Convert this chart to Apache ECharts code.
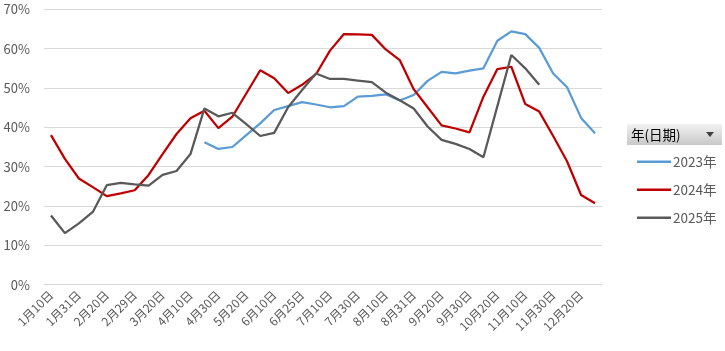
<!DOCTYPE html>
<html>
<head>
<meta charset="utf-8">
<script src="https://cdn.jsdelivr.net/npm/echarts@6/dist/echarts.min.js"></script>
<style>
  html, body { margin: 0; padding: 0; background: #fff; }
  #chart { width: 725px; height: 351px; }
</style>
</head>
<body>
<div id="chart"></div>
<script>
// categories (labels shown every other one)
const dates = [
  "1月10日", "1月20日", "1月31日", "2月10日", "2月20日", "2月25日", "2月29日", "3月10日",
  "3月20日", "3月31日", "4月10日", "4月20日", "4月30日", "5月10日", "5月20日", "5月31日",
  "6月10日", "6月20日", "6月25日", "6月30日", "7月10日", "7月20日", "7月30日", "7月31日",
  "8月10日", "8月20日", "8月31日", "9月10日", "9月20日", "9月25日", "9月30日", "10月10日",
  "10月20日", "10月31日", "11月10日", "11月20日", "11月30日", "12月10日", "12月20日", "12月31日"
];

const y2023 = [
  null, null, null, null, null, null, null, null, null, null, null,
  36.2, 34.5, 35.0, 38.0, 41.0, 44.4, 45.4, 46.4, 45.8, 45.1, 45.4, 47.8, 48.0,
  48.4, 46.8, 48.2, 51.8, 54.1, 53.7, 54.4, 55.0, 62.0, 64.4, 63.7, 60.2, 53.7,
  50.2, 42.4, 38.5
];

const y2024 = [
  38.0, 32.0, 27.0, 24.8, 22.5, 23.2, 24.0, 27.9, 33.2, 38.3, 42.3, 44.2, 39.8,
  42.7, 48.6, 54.5, 52.5, 48.7, 50.8, 53.5, 59.5, 63.7, 63.6, 63.5, 59.8, 57.1,
  49.7, 45.1, 40.5, 39.7, 38.7, 47.8, 54.8, 55.4, 45.9, 44.0, 37.8, 31.3, 22.8, 20.7
];

const y2025 = [
  17.6, 13.1, 15.6, 18.5, 25.3, 25.9, 25.5, 25.2, 27.9, 28.9, 33.2, 44.8, 42.8,
  43.7, 40.8, 37.8, 38.6, 45.1, 49.5, 53.7, 52.3, 52.3, 51.9, 51.5, 48.8, 46.9,
  44.8, 40.2, 36.8, 35.8, 34.5, 32.4, 45.4, 58.4, 55.0, 50.8, null, null, null, null
];

const yTicks = [0, 10, 20, 30, 40, 50, 60, 70];

const chart = echarts.init(document.getElementById("chart"));

const lineSeries = (name, data, color) => ({
  name: name,
  type: "line",
  data: data,
  symbol: "none",
  connectNulls: false,
  lineStyle: { color: color, width: 2.25 },
  itemStyle: { color: color },
  animation: false,
});

const option = {
  animation: false,
  textStyle: { fontFamily: "'Noto Sans CJK SC', 'Noto Sans', sans-serif" },
  grid: { left: 44, right: 123, top: 9.3, bottom: 66.3 },
  xAxis: {
    type: "category",
    data: dates,
    boundaryGap: true,
    axisLine: { show: true, lineStyle: { color: "#D9D9D9" } },
    axisTick: { show: false },
    axisLabel: {
      interval: 1,
      rotate: 45,
      margin: 8,
      color: "#595959",
      fontSize: 12,
    },
  },
  yAxis: {
    type: "value",
    min: yTicks[0],
    max: yTicks[yTicks.length - 1],
    interval: 10,
    axisLine: { show: false },
    axisTick: { show: false },
    splitLine: { lineStyle: { color: "#D9D9D9", width: 1 } },
    axisLabel: {
      margin: 14,
      color: "#595959",
      fontSize: 13,
      formatter: (v) => v + "%",
    },
  },
  legend: {
    orient: "vertical",
    left: 632,
    top: 150,
    itemWidth: 34,
    itemHeight: 2.5,
    itemGap: 14.5,
    icon: "rect",
    textStyle: { color: "#595959", fontSize: 13.5, padding: [0, 0, 0, -3] },
    data: ["2023年", "2024年", "2025年"],
  },
  graphic: [
    {
      type: "rect",
      shape: { x: 627, y: 124, width: 95, height: 21 },
      style: {
        fill: new echarts.graphic.LinearGradient(0, 0, 0, 1, [
          { offset: 0, color: "#F2F2F2" },
          { offset: 1, color: "#C8C8C8" },
        ]),
      },
    },
    {
      type: "text",
      style: {
        x: 631,
        y: 134.5,
        text: "年(日期)",
        fill: "#000",
        fontSize: 13.5,
        verticalAlign: "middle",
        fontFamily: "'Noto Sans CJK SC', sans-serif",
      },
    },
    {
      type: "polygon",
      shape: { points: [[706, 132], [714, 132], [710, 137]] },
      style: { fill: "#404040" },
    },
  ],
  series: [
    lineSeries("2023年", y2023, "#5B9BD5"),
    lineSeries("2024年", y2024, "#C00000"),
    lineSeries("2025年", y2025, "#595959"),
  ],
};

chart.setOption(option);
</script>
</body>
</html>
